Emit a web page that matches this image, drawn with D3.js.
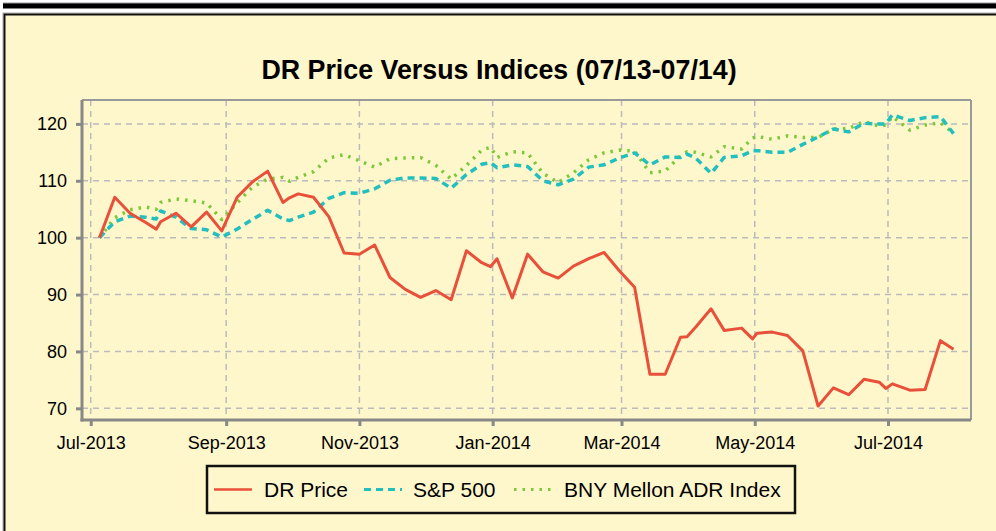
<!DOCTYPE html>
<html>
<head>
<meta charset="utf-8">
<script src="https://cdn.jsdelivr.net/npm/d3@7"></script>
<style>
  html, body { margin: 0; padding: 0; background: #fff; }
  svg { display: block; font-family: "Liberation Sans", Arial, sans-serif; }
</style>
</head>
<body>
<div id="chart"></div>
<script>
// weekly closes (plus month ends), rebased to 100
var dates = [
  "2013-07-05","2013-07-12","2013-07-19","2013-07-26","2013-07-31","2013-08-02","2013-08-09","2013-08-16",
  "2013-08-23","2013-08-30","2013-09-06","2013-09-13","2013-09-20","2013-09-27","2013-09-30","2013-10-04",
  "2013-10-11","2013-10-18","2013-10-25","2013-11-01","2013-11-08","2013-11-15","2013-11-22","2013-11-29",
  "2013-12-06","2013-12-13","2013-12-20","2013-12-27","2013-12-31","2014-01-03","2014-01-10","2014-01-17",
  "2014-01-24","2014-01-31","2014-02-07","2014-02-14","2014-02-21","2014-02-28","2014-03-07","2014-03-14",
  "2014-03-21","2014-03-28","2014-03-31","2014-04-04","2014-04-11","2014-04-17","2014-04-25","2014-04-30",
  "2014-05-02","2014-05-09","2014-05-16","2014-05-23","2014-05-30","2014-06-06","2014-06-13","2014-06-20",
  "2014-06-27","2014-06-30","2014-07-03","2014-07-11","2014-07-18","2014-07-25","2014-07-31"
];
var drPrice = [
  100, 107.1, 104.3, 102.7, 101.5, 102.8, 104.3, 101.9,
  104.5, 101.2, 107.1, 109.8, 111.7, 106.2, 107.0, 107.7,
  107.1, 103.7, 97.3, 97.1, 98.7, 93.0, 90.9, 89.5,
  90.7, 89.1, 97.7, 95.6, 94.9, 96.3, 89.4, 97.1,
  94.0, 92.9, 95.0, 96.3, 97.4, 94.2, 91.3, 76.0,
  76.0, 82.5, 82.6, 84.3, 87.5, 83.7, 84.1, 82.2,
  83.2, 83.4, 82.8, 80.1, 70.4, 73.6, 72.4, 75.1,
  74.6, 73.5, 74.3, 73.2, 73.3, 81.9, 80.4
];
var sp500 = [
  100, 102.8, 103.8, 103.6, 103.3, 104.7, 103.6, 101.6,
  101.4, 100.1, 101.5, 103.2, 104.8, 103.3, 103.0, 103.6,
  104.5, 106.9, 107.9, 107.8, 108.6, 110.1, 110.5, 110.5,
  110.4, 108.7, 111.1, 112.9, 113.2, 112.3, 112.8, 112.5,
  110.0, 109.3, 110.3, 112.4, 112.8, 114.0, 114.9, 112.8,
  114.2, 114.1, 114.7, 114.0, 111.3, 114.1, 114.4, 115.3,
  115.3, 115.0, 115.0, 116.4, 117.7, 119.1, 118.6, 120.1,
  120.0, 120.0, 121.6, 120.6, 121.1, 121.3, 118.3
];
var bnyAdr = [
  100, 103.5, 104.9, 105.4, 105.0, 106.2, 106.8, 106.5,
  106.1, 103.2, 106.1, 108.9, 110.3, 110.6, 109.9, 110.6,
  111.6, 114.0, 114.6, 113.5, 112.4, 113.9, 114.0, 114.1,
  112.7, 110.3, 112.7, 115.4, 115.9, 114.1, 115.1, 114.9,
  111.3, 109.7, 111.4, 113.7, 114.9, 115.4, 115.2, 111.4,
  111.7, 114.4, 115.1, 115.0, 114.2, 116.0, 115.6, 117.5,
  117.8, 117.3, 117.9, 117.6, 117.6, 119.1, 119.2, 120.4,
  119.6, 119.8, 121.3, 118.9, 119.8, 120.2, 118.4
];
var seriesNames = ["DR Price", "S&P 500", "BNY Mellon ADR Index"];
var xTickDates = ["2013-07-01","2013-09-01","2013-11-01","2014-01-01","2014-03-01","2014-05-01","2014-07-01"];
var yTicks = [70, 80, 90, 100, 110, 120];

var W = 996, H = 531;
var margin = {top: 100, right: 25, bottom: 111, left: 82};
var parse = d3.timeParse("%Y-%m-%d");
var fmt = d3.timeFormat("%b-%Y");

var svg = d3.select("#chart").append("svg")
  .attr("width", W)
  .attr("height", H);

// page chrome: black rule and framed panel
svg.append("rect").attr("x", 3).attr("y", 3).attr("width", W).attr("height", 5.5).attr("fill", "#000");
svg.append("rect").attr("x", 3).attr("y", 2.5).attr("width", W).attr("height", 1).attr("fill", "#999");
svg.append("rect").attr("x", 3).attr("y", 13).attr("width", W + 20).attr("height", H + 20)
  .attr("fill", "#fff7cc").attr("stroke", "#aaa").attr("stroke-width", 1);
svg.append("rect").attr("x", 4.5).attr("y", 14.5).attr("width", W + 20).attr("height", H + 20)
  .attr("fill", "none").attr("stroke", "#111").attr("stroke-width", 2);

svg.append("text")
  .attr("x", 499).attr("y", 79)
  .attr("text-anchor", "middle")
  .attr("font-size", 26.8).attr("font-weight", "bold").attr("fill", "#000")
  .text("DR Price Versus Indices (07/13-07/14)");

var x = d3.scaleTime()
  .domain([parse("2013-06-27"), parse("2014-08-08")])
  .range([margin.left, W - margin.right]);
var y = d3.scaleLinear()
  .domain([67.95, 124.2])
  .range([H - margin.bottom, margin.top]);

var x0 = margin.left, x1 = W - margin.right, y0 = H - margin.bottom, y1 = margin.top;

// grid
var grid = svg.append("g").attr("stroke", "#bbb").attr("stroke-width", 1.5).attr("stroke-dasharray", "6,5");
grid.selectAll(".gy").data(yTicks).enter().append("line")
  .attr("x1", x0).attr("x2", x1)
  .attr("y1", function(d) { return y(d); }).attr("y2", function(d) { return y(d); });
grid.selectAll(".gx").data(xTickDates).enter().append("line")
  .attr("y1", y1).attr("y2", y0)
  .attr("x1", function(d) { return x(parse(d)); }).attr("x2", function(d) { return x(parse(d)); });

// plot border
svg.append("line").attr("x1", x0).attr("x2", x1).attr("y1", y1).attr("y2", y1).attr("stroke", "#999").attr("stroke-width", 2);
svg.append("line").attr("x1", x1).attr("x2", x1).attr("y1", y1).attr("y2", y0).attr("stroke", "#999").attr("stroke-width", 2);

// axes
var xAxis = d3.axisBottom(x)
  .tickValues(xTickDates.map(parse))
  .tickFormat(fmt)
  .tickSize(6).tickSizeOuter(0).tickPadding(10);
var yAxis = d3.axisLeft(y)
  .tickValues(yTicks)
  .tickSize(6).tickSizeOuter(0).tickPadding(9);

var gx = svg.append("g").attr("transform", "translate(0," + y0 + ")").call(xAxis);
var gy = svg.append("g").attr("transform", "translate(" + x0 + ",0)").call(yAxis);
[gx, gy].forEach(function(g) {
  g.select(".domain").attr("stroke", "#888").attr("stroke-width", 3);
  g.selectAll(".tick line").attr("stroke", "#888").attr("stroke-width", 3);
  g.selectAll(".tick text").attr("font-size", 18).attr("fill", "#000")
    .attr("font-family", "'Liberation Sans', Arial, sans-serif");
});
gy.select(".domain").attr("d", "M0," + (y0 + 1.5) + "V" + y1);
gx.select(".domain").attr("d", "M" + (x0 - 1.5) + ",0H" + x1);

// lines
var pts = function(vals) {
  return vals.map(function(v, i) { return {date: parse(dates[i]), value: v}; });
};
var line = d3.line()
  .x(function(d) { return x(d.date); })
  .y(function(d) { return y(d.value); });

var styles = [
  {data: drPrice, color: "#e8503a", width: 3, dash: null},
  {data: sp500, color: "#22bfbf", width: 3.5, dash: "7,5"},
  {data: bnyAdr, color: "#7dc83a", width: 3.5, dash: "2.5,6"}
];
styles.slice().reverse().forEach(function(s) {
  svg.append("path")
    .datum(pts(s.data))
    .attr("fill", "none")
    .attr("stroke", s.color)
    .attr("stroke-width", s.width)
    .attr("stroke-linejoin", "round")
    .attr("stroke-dasharray", s.dash)
    .attr("d", line);
});

// legend
var lg = svg.append("g");
lg.append("rect").attr("x", 207).attr("y", 466).attr("width", 588).attr("height", 47)
  .attr("fill", "none").attr("stroke", "#111").attr("stroke-width", 2.5);
var legendX = [214, 364, 514];
var textX = [264, 413, 564];
styles.forEach(function(s, i) {
  lg.append("line")
    .attr("x1", legendX[i]).attr("x2", legendX[i] + 38)
    .attr("y1", 489.5).attr("y2", 489.5)
    .attr("stroke", s.color).attr("stroke-width", s.width - 0.5)
    .attr("stroke-dasharray", s.dash);
  lg.append("text")
    .attr("x", textX[i]).attr("y", 497)
    .attr("font-size", 21).attr("fill", "#000")
    .text(seriesNames[i]);
});
</script>
</body>
</html>
